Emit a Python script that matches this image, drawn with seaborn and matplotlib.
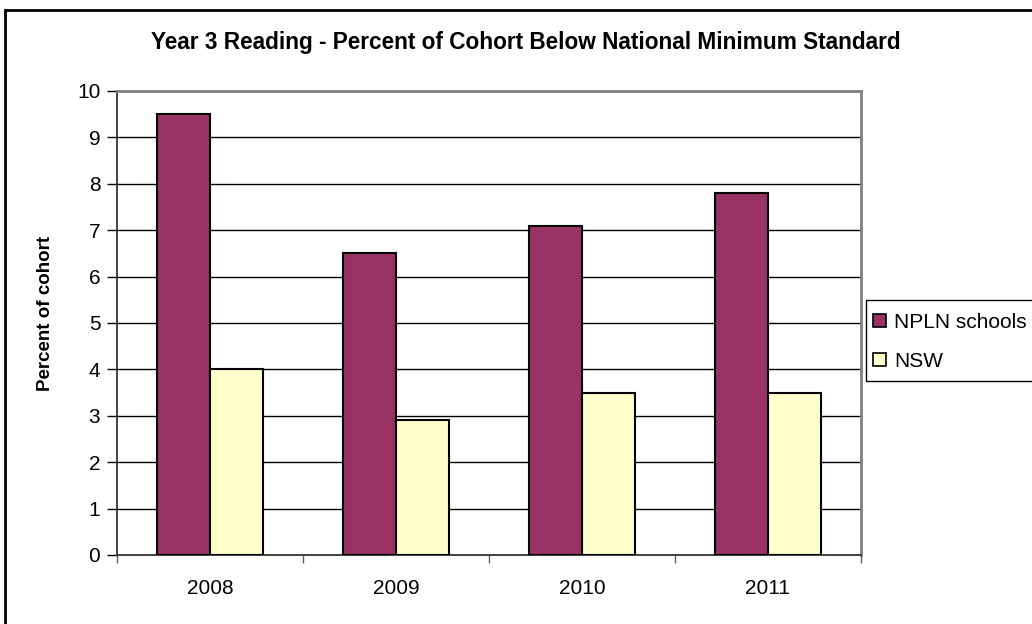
import matplotlib
matplotlib.use("Agg")
import matplotlib.pyplot as plt
import seaborn as sns
import pandas as pd
from matplotlib.patches import Rectangle
from matplotlib.ticker import FixedLocator

years = ["2008", "2009", "2010", "2011"]
npln = [9.5, 6.5, 7.1, 7.8]
nsw = [4.0, 2.9, 3.5, 3.5]
series_names = ["NPLN schools", "NSW"]
colors = ["#993366", "#FFFFCC"]

df = pd.DataFrame({
    "Year": years * 2,
    "Value": npln + nsw,
    "Series": [series_names[0]] * 4 + [series_names[1]] * 4,
})

sns.set_theme(style="white")
plt.rcParams["font.family"] = ["Liberation Sans", "DejaVu Sans"]
plt.rcParams["text.color"] = "black"
plt.rcParams["axes.labelcolor"] = "black"
plt.rcParams["xtick.color"] = "black"
plt.rcParams["ytick.color"] = "black"

fig = plt.figure(figsize=(10.32, 6.24), dpi=100)
ax = fig.add_axes([117/1032, 1-555/624, (861-117)/1032, (555-91)/624])

sns.barplot(data=df, x="Year", y="Value", hue="Series", palette=colors,
            saturation=1, width=0.57, edgecolor="black", linewidth=1.5,
            ax=ax, legend=False, zorder=3)

ax.set_ylim(0, 10)
ax.set_xlim(-0.5, 3.5)
ax.set_yticks(range(0, 11))
ax.yaxis.grid(True, color="black", linewidth=1, zorder=0)
ax.set_axisbelow(True)
ax.set_xlabel("")
ax.set_ylabel("Percent of cohort", fontsize=13.5, fontweight="bold")
ax.yaxis.set_label_coords((54-117)/744, (555-313)/464)
ax.tick_params(axis="y", labelsize=15, length=7, width=1, color="black",
               direction="out", left=True, pad=5)
ax.tick_params(axis="x", which="major", labelsize=15, length=0, pad=17)
ax.xaxis.set_minor_locator(FixedLocator([-0.5, 0.5, 1.5, 2.5, 3.5]))
ax.tick_params(axis="x", which="minor", length=6, width=1, color="#606060",
               bottom=True, direction="out")
for s in ["left", "bottom"]:
    ax.spines[s].set_color("#333333")
    ax.spines[s].set_linewidth(1.3)
for s in ["top", "right"]:
    ax.spines[s].set_color("#808080")
    ax.spines[s].set_linewidth(2)

fig.text(526/1032, 1-43/624, "Year 3 Reading - Percent of Cohort Below National Minimum Standard",
         ha="center", va="center", fontsize=16.3, fontweight="bold")

handles = [Rectangle((0, 0), 1, 1, facecolor=c, edgecolor="black", linewidth=1.2) for c in colors]
leg = fig.legend(handles, series_names, loc="upper left",
                 bbox_to_anchor=(873/1032, 1-313/624), fontsize=15,
                 frameon=False, handlelength=0.6, handleheight=0.6,
                 handletextpad=0.4, labelspacing=0.95, borderpad=0, borderaxespad=0)

# legend frame extending past the right edge, as in the reference
fig.patches.append(Rectangle((866/1032, 1-381/624), 200/1032, 81/624,
                             transform=fig.transFigure, fill=False,
                             edgecolor="black", linewidth=1))

# outer chart border
fig.patches.append(Rectangle((5/1032, -0.1), 1.2, 1-10/624+0.1, transform=fig.transFigure,
                             fill=False, edgecolor="black", linewidth=2))

fig.savefig("out.png", dpi=100)
